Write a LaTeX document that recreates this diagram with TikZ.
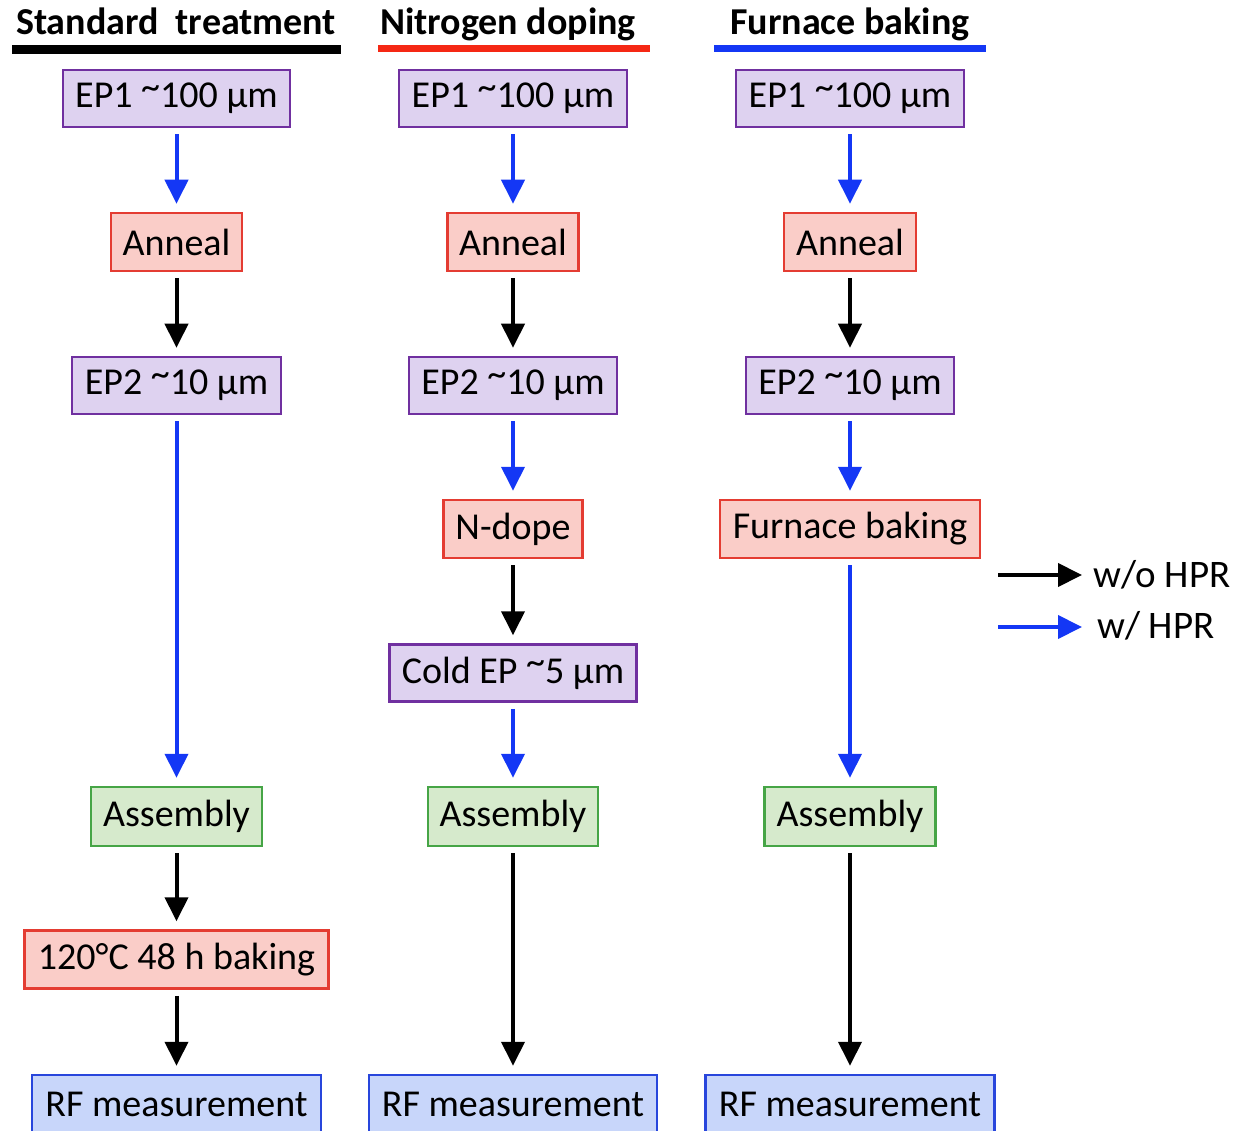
\documentclass[tikz,border=0pt]{standalone}
\usepackage{fontspec}
\setmainfont{Carlito}
\usetikzlibrary{arrows.meta}
\definecolor{purF}{RGB}{222,210,240}
\definecolor{purD}{RGB}{112,48,160}
\definecolor{redF}{RGB}{250,205,200}
\definecolor{redD}{RGB}{228,60,50}
\definecolor{grnF}{RGB}{214,234,204}
\definecolor{grnD}{RGB}{70,165,70}
\definecolor{bluF}{RGB}{200,214,250}
\definecolor{bluD}{RGB}{40,70,220}
\definecolor{arrB}{RGB}{20,55,245}
\definecolor{hdrR}{RGB}{245,40,20}
\newcommand{\tld}{\raisebox{.22em}{\textasciitilde}}
\tikzset{
  box/.style={draw, line width=2.5pt, inner sep=0pt, font=\fontsize{38}{44}\selectfont},
  pbox/.style={box, draw=purD, fill=purF, minimum height=57pt},
  rbox/.style={box, draw=redD, fill=redF, minimum height=58pt},
  gbox/.style={box, draw=grnD, fill=grnF, minimum height=59pt},
  bbox/.style={box, draw=bluD, fill=bluF, minimum height=58pt},
  flow/.style={line width=4pt, -{Triangle[length=24pt,width=23pt]}, shorten <=6pt, shorten >=8pt},
  bk/.style={flow, black},
  bl/.style={flow, arrB},
  hdr/.style={inner sep=0pt, anchor=base, font=\fontsize{38}{44}\selectfont\bfseries},
  leg/.style={inner sep=0pt, anchor=base west, font=\fontsize{39}{44}\selectfont},
}
\begin{document}
\begin{tikzpicture}[x=1pt,y=-1pt]
\useasboundingbox (0,0) rectangle (1240,1131);
\begin{scope}
\clip (0,0) rectangle (1240,1131);
% headers
\node[hdr] (h1) at (176,35) {Standard\ \ treatment};
\node[hdr] (h2) at (508,35) {Nitrogen doping};
\node[hdr] (h3) at (850,35) {Furnace baking};
\draw[line width=9pt, black] (12,50) -- (341,50);
\draw[line width=7pt, hdrR] (378,49) -- (650,49);
\draw[line width=7pt, arrB] (714,49) -- (986,49);
% column 1
\node[pbox, minimum width=227pt] (a1) at (176.5,98.5) {EP1 \tld100 µm};
\node[rbox, minimum width=131pt] (a2) at (176.5,242) {Anneal};
\node[pbox, minimum width=209pt] (a3) at (176.5,385.5) {EP2 \tld10 µm};
\node[gbox, minimum width=171pt] (a4) at (176.5,816.5) {Assembly};
\node[rbox, minimum width=304pt] (a5) at (176.5,959.5) {120°C 48 h baking};
\node[bbox, minimum width=289pt] (a6) at (176.5,1104) {RF measurement};
% column 2
\node[pbox, minimum width=228pt] (b1) at (513,98.5) {EP1 \tld100 µm};
\node[rbox, minimum width=131pt] (b2) at (513,242) {Anneal};
\node[pbox, minimum width=208pt] (b3) at (513,385.5) {EP2 \tld10 µm};
\node[rbox, minimum width=139pt] (b4) at (513,529) {N-dope};
\node[pbox, minimum width=247pt] (b5) at (513,673) {Cold EP \tld5 µm};
\node[gbox, minimum width=170pt] (b6) at (513,816.5) {Assembly};
\node[bbox, minimum width=288pt] (b7) at (513,1104) {RF measurement};
% column 3
\node[pbox, minimum width=228pt] (c1) at (850,98.5) {EP1 \tld100 µm};
\node[rbox, minimum width=132pt] (c2) at (850,242) {Anneal};
\node[pbox, minimum width=208pt] (c3) at (850,385.5) {EP2 \tld10 µm};
\node[rbox, minimum width=260pt] (c4) at (850,529) {Furnace baking};
\node[gbox, minimum width=171pt] (c5) at (850,816.5) {Assembly};
\node[bbox, minimum width=289pt] (c6) at (850,1104) {RF measurement};
% arrows
\draw[bl] (a1) -- (a2);
\draw[bk] (a2) -- (a3);
\draw[bl] (a3) -- (a4);
\draw[bk] (a4) -- (a5);
\draw[bk] (a5) -- (a6);
\draw[bl] (b1) -- (b2);
\draw[bk] (b2) -- (b3);
\draw[bl] (b3) -- (b4);
\draw[bk] (b4) -- (b5);
\draw[bl] (b5) -- (b6);
\draw[bk] (b6) -- (b7);
\draw[bl] (c1) -- (c2);
\draw[bk] (c2) -- (c3);
\draw[bl] (c3) -- (c4);
\draw[bl] (c4) -- (c5);
\draw[bk] (c5) -- (c6);
% legend
\coordinate (l1s) at (998,575);
\coordinate (l1e) at (1082,575);
\coordinate (l2s) at (998,627);
\coordinate (l2e) at (1082,627);
\draw[line width=4pt, black, -{Triangle[length=24pt,width=23pt]}] (l1s) -- (l1e);
\draw[line width=4pt, arrB, -{Triangle[length=24pt,width=23pt]}] (l2s) -- (l2e);
\node[leg] (t1) at (1093,587) {w/o HPR};
\node[leg] (t2) at (1097,638) {w/ HPR};
\end{scope}
\end{tikzpicture}
\end{document}
